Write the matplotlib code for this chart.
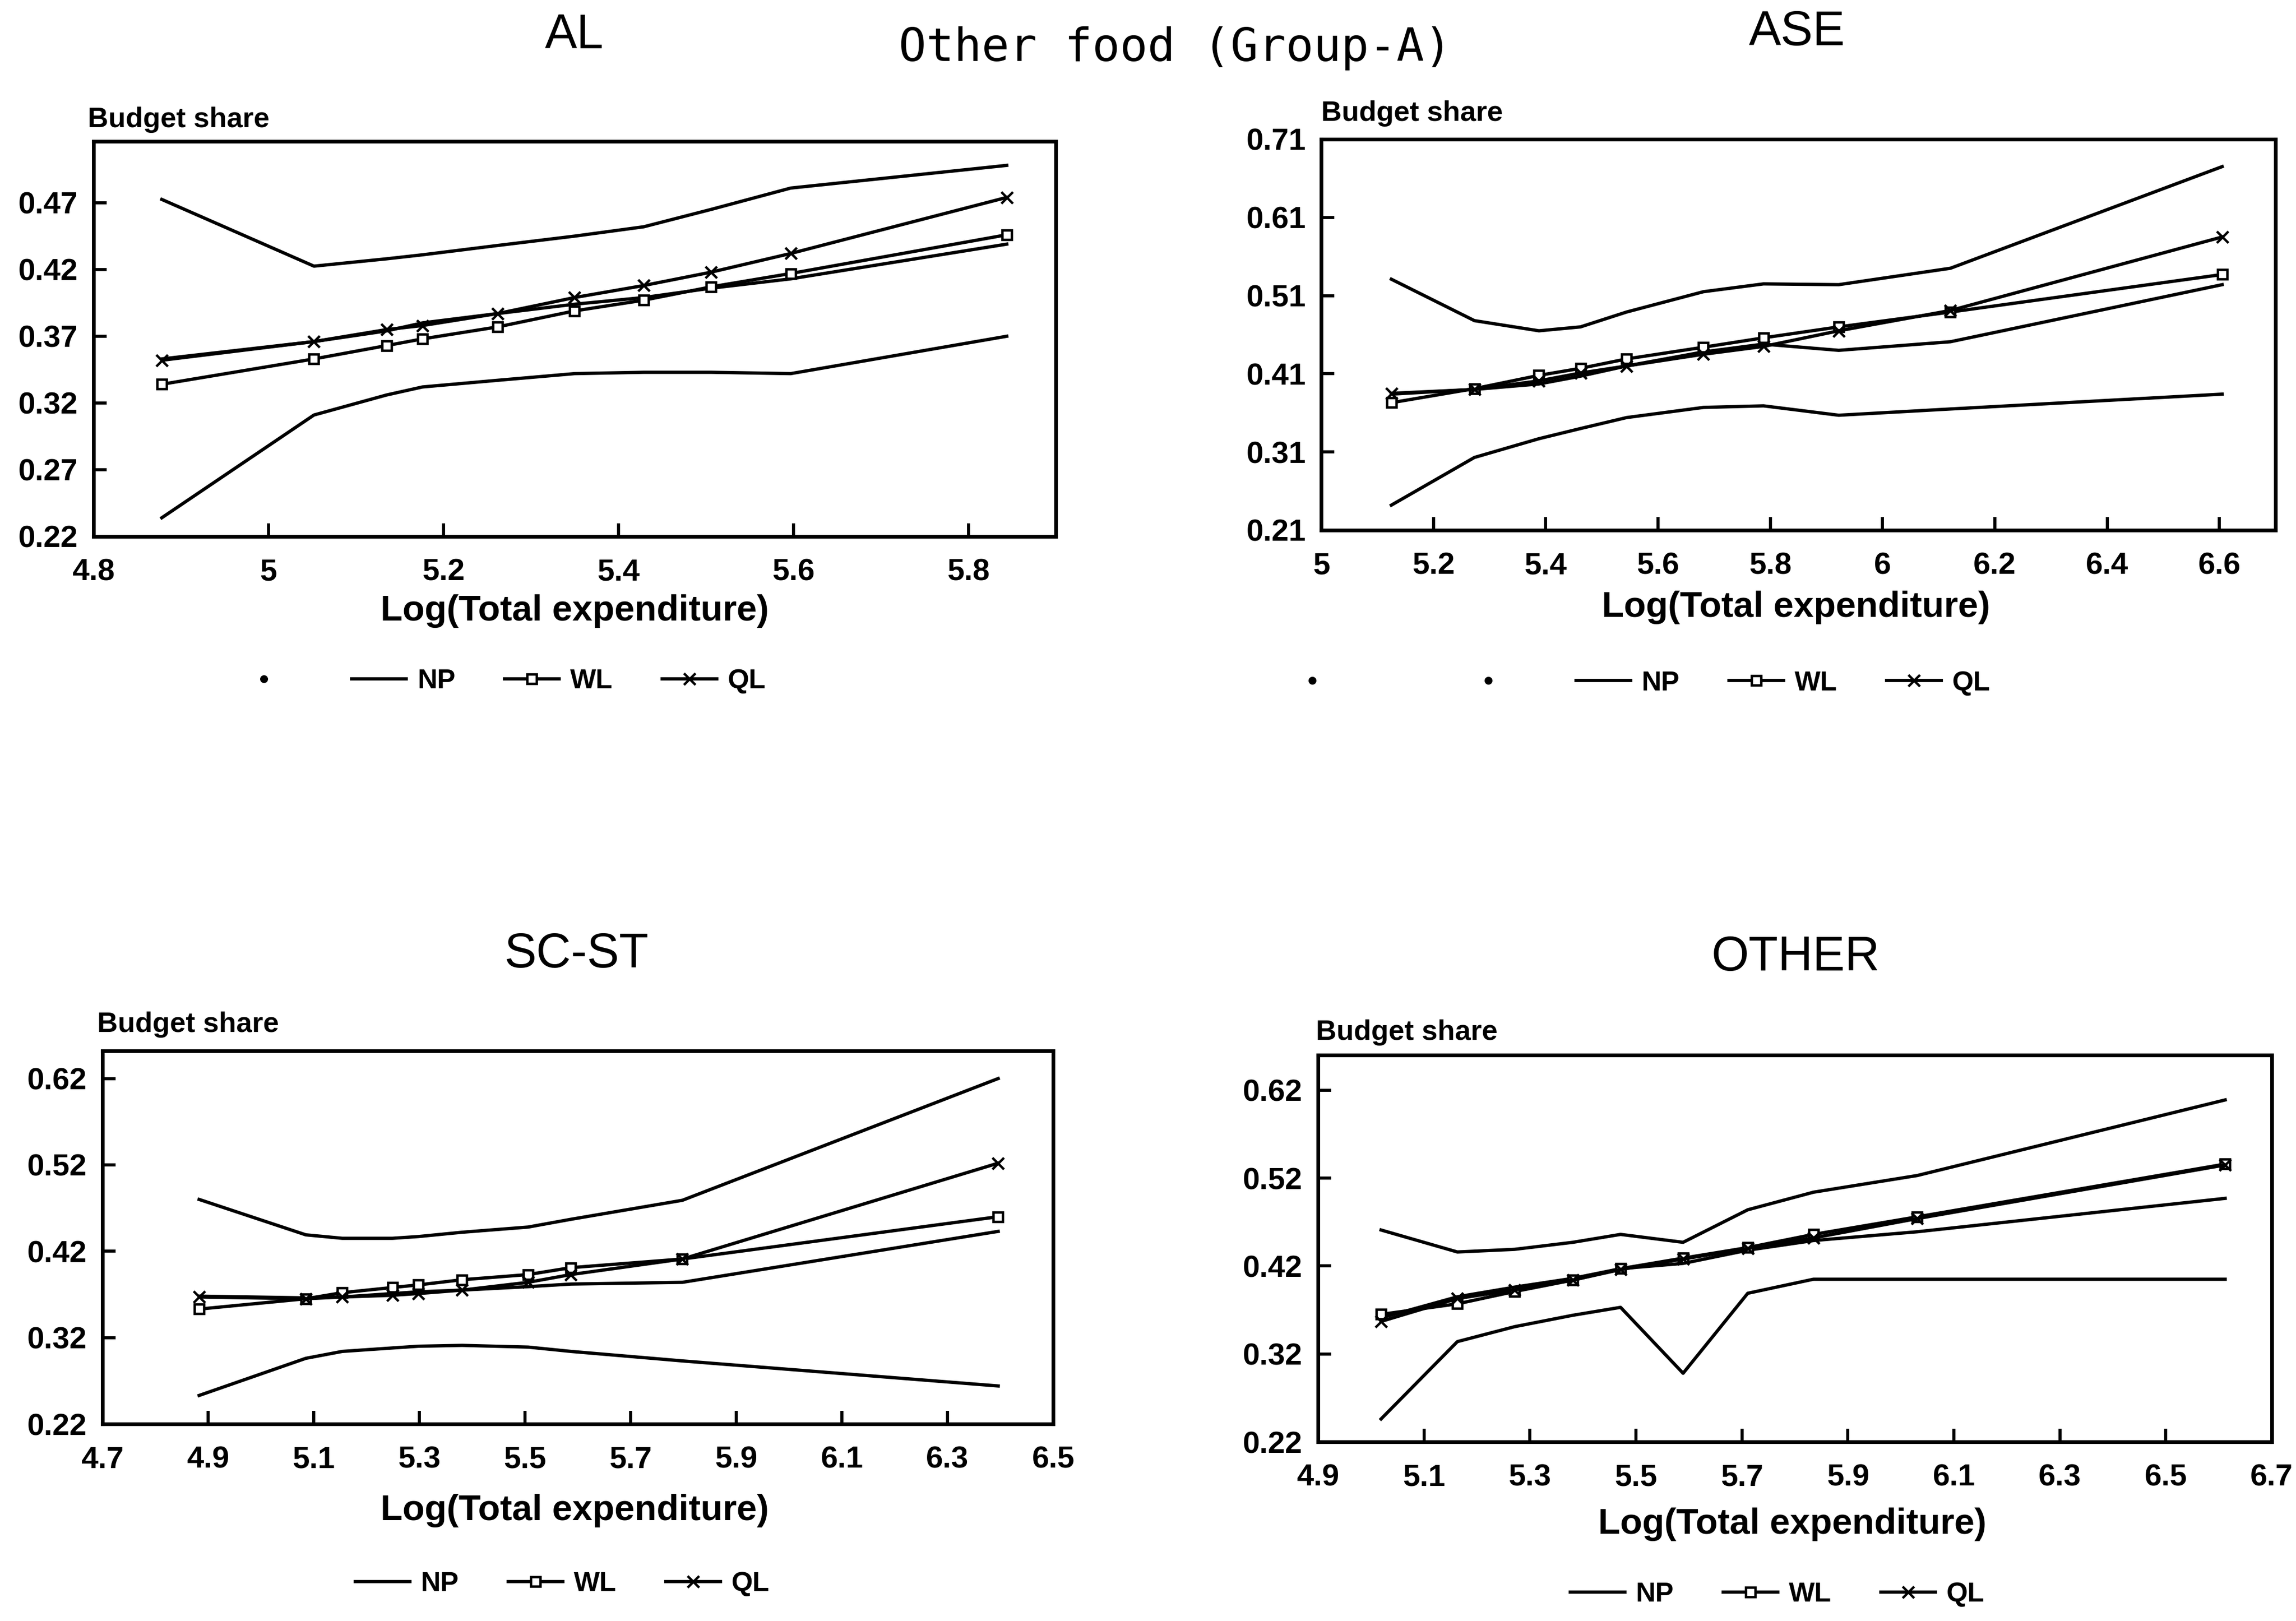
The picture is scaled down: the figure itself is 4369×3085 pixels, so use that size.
import matplotlib
matplotlib.use("Agg")
import matplotlib.pyplot as plt
from matplotlib.lines import Line2D

plt.rcParams['font.family'] = ['Liberation Sans', 'DejaVu Sans']

# ---------------- data ----------------
main_title = "Other food (Group-A)"
panel_names = ["AL", "ASE", "SC-ST", "OTHER"]
y_label = "Budget share"
x_label = "Log(Total expenditure)"

# AL
al_x = [4.878, 5.052, 5.135, 5.176, 5.262, 5.350, 5.429, 5.506, 5.597, 5.844]
al_np_upper = [0.4725, 0.4225, 0.428, 0.431, 0.438, 0.445, 0.452, 0.465, 0.481, 0.498]
al_np_mid = [0.353, 0.366, 0.374, 0.380, 0.387, 0.394, 0.399, 0.406, 0.413, 0.439]
al_np_lower = [0.234, 0.311, 0.326, 0.332, 0.337, 0.342, 0.343, 0.343, 0.342, 0.370]
al_wl = [0.334, 0.353, 0.363, 0.368, 0.377, 0.389, 0.397, 0.407, 0.417, 0.446]
al_ql = [0.352, 0.366, 0.375, 0.378, 0.387, 0.399, 0.408, 0.418, 0.432, 0.474]
al_xticks = [4.8, 5.0, 5.2, 5.4, 5.6, 5.8]
al_xticklabels = ["4.8", "5", "5.2", "5.4", "5.6", "5.8"]
al_yticks = [0.22, 0.27, 0.32, 0.37, 0.42, 0.47]
al_yticklabels = ["0.22", "0.27", "0.32", "0.37", "0.42", "0.47"]

# ASE
ase_x = [5.125, 5.273, 5.388, 5.462, 5.544, 5.681, 5.788, 5.922, 6.121, 6.605]
ase_np_upper = [0.531, 0.478, 0.465, 0.470, 0.489, 0.515, 0.525, 0.524, 0.545, 0.675]
ase_np_mid = [0.384, 0.390, 0.397, 0.407, 0.420, 0.438, 0.448, 0.440, 0.451, 0.524]
ase_np_lower = [0.242, 0.303, 0.327, 0.340, 0.354, 0.367, 0.369, 0.357, 0.365, 0.384]
ase_wl = [0.373, 0.391, 0.408, 0.417, 0.429, 0.444, 0.456, 0.470, 0.489, 0.537]
ase_ql = [0.385, 0.390, 0.401, 0.411, 0.420, 0.435, 0.445, 0.465, 0.491, 0.585]
ase_xticks = [5.0, 5.2, 5.4, 5.6, 5.8, 6.0, 6.2, 6.4, 6.6]
ase_xticklabels = ["5", "5.2", "5.4", "5.6", "5.8", "6", "6.2", "6.4", "6.6"]
ase_yticks = [0.21, 0.31, 0.41, 0.51, 0.61, 0.71]
ase_yticklabels = ["0.21", "0.31", "0.41", "0.51", "0.61", "0.71"]

# SC-ST
sc_x = [4.883, 5.085, 5.154, 5.249, 5.298, 5.381, 5.506, 5.587, 5.798, 6.396]
sc_np_upper = [0.480, 0.439, 0.435, 0.435, 0.437, 0.442, 0.448, 0.457, 0.479, 0.620]
sc_np_mid = [0.368, 0.366, 0.367, 0.371, 0.373, 0.375, 0.379, 0.382, 0.384, 0.443]
sc_np_lower = [0.253, 0.296, 0.304, 0.308, 0.310, 0.311, 0.309, 0.304, 0.293, 0.264]
sc_wl = [0.353, 0.365, 0.372, 0.378, 0.381, 0.387, 0.393, 0.401, 0.411, 0.460]
sc_ql = [0.367, 0.365, 0.367, 0.369, 0.371, 0.375, 0.384, 0.393, 0.411, 0.522]
sc_xticks = [4.7, 4.9, 5.1, 5.3, 5.5, 5.7, 5.9, 6.1, 6.3, 6.5]
sc_xticklabels = ["4.7", "4.9", "5.1", "5.3", "5.5", "5.7", "5.9", "6.1", "6.3", "6.5"]
sc_yticks = [0.22, 0.32, 0.42, 0.52, 0.62]
sc_yticklabels = ["0.22", "0.32", "0.42", "0.52", "0.62"]

# OTHER
ot_x = [5.019, 5.163, 5.271, 5.381, 5.471, 5.589, 5.711, 5.835, 6.031, 6.612]
ot_np_upper = [0.461, 0.436, 0.439, 0.447, 0.456, 0.447, 0.484, 0.504, 0.523, 0.609]
ot_np_mid = [0.361, 0.385, 0.396, 0.406, 0.417, 0.423, 0.438, 0.449, 0.459, 0.497]
ot_np_lower = [0.246, 0.334, 0.351, 0.364, 0.373, 0.298, 0.389, 0.405, 0.405, 0.405]
ot_wl = [0.365, 0.377, 0.391, 0.404, 0.417, 0.429, 0.441, 0.456, 0.476, 0.536]
ot_ql = [0.357, 0.383, 0.393, 0.404, 0.416, 0.428, 0.440, 0.452, 0.474, 0.535]
ot_xticks = [4.9, 5.1, 5.3, 5.5, 5.7, 5.9, 6.1, 6.3, 6.5, 6.7]
ot_xticklabels = ["4.9", "5.1", "5.3", "5.5", "5.7", "5.9", "6.1", "6.3", "6.5", "6.7"]
ot_yticks = [0.22, 0.32, 0.42, 0.52, 0.62]
ot_yticklabels = ["0.22", "0.32", "0.42", "0.52", "0.62"]

series_labels = ["NP", "WL", "QL"]

# ---------------- layout (pixels on a 4369 x 3085 canvas) ----------------
W, H = 4369, 3085
fig = plt.figure(figsize=(W / 300, H / 300), dpi=300)
fig.patch.set_facecolor("white")


def fx(px):
    return px / W


def fy(py):
    return 1 - py / H


panels = [
    dict(name="AL", box=(178, 2009, 269, 1021), xlim=(4.8, 5.9), ylim=(0.22, 0.516),
         x=al_x, npu=al_np_upper, npm=al_np_mid, npl=al_np_lower, wl=al_wl, ql=al_ql,
         xt=al_xticks, xtl=al_xticklabels, yt=al_yticks, ytl=al_yticklabels,
         title_at=(1093, 68), ylab_at=(167, 228), xlab_at=(1093, 1163),
         leg_at=(954, 1297), dots=1),
    dict(name="ASE", box=(2514, 4330, 265, 1009), xlim=(5.0, 6.7), ylim=(0.21, 0.71),
         x=ase_x, npu=ase_np_upper, npm=ase_np_mid, npl=ase_np_lower, wl=ase_wl, ql=ase_ql,
         xt=ase_xticks, xtl=ase_xticklabels, yt=ase_yticks, ytl=ase_yticklabels,
         title_at=(3420, 62), ylab_at=(2514, 216), xlab_at=(3417, 1156),
         leg_at=(3116, 1300), dots=2),
    dict(name="SC-ST", box=(195, 2004, 2000, 2710), xlim=(4.7, 6.5), ylim=(0.22, 0.652),
         x=sc_x, npu=sc_np_upper, npm=sc_np_mid, npl=sc_np_lower, wl=sc_wl, ql=sc_ql,
         xt=sc_xticks, xtl=sc_xticklabels, yt=sc_yticks, ytl=sc_yticklabels,
         title_at=(1097, 1817), ylab_at=(185, 1950), xlab_at=(1093, 2875),
         leg_at=(1070, 3015), dots=0),
    dict(name="OTHER", box=(2508, 4323, 2008, 2744), xlim=(4.9, 6.7), ylim=(0.22, 0.66),
         x=ot_x, npu=ot_np_upper, npm=ot_np_mid, npl=ot_np_lower, wl=ot_wl, ql=ot_ql,
         xt=ot_xticks, xtl=ot_xticklabels, yt=ot_yticks, ytl=ot_yticklabels,
         title_at=(3417, 1823), ylab_at=(2504, 1965), xlab_at=(3410, 2901),
         leg_at=(3382, 3035), dots=0),
]

bold = dict(family="Liberation Sans", weight="bold")
line_kw = dict(color="black", lw=1.5)

for p in panels:
    l, r, t, b = p["box"]
    ax = fig.add_axes([fx(l), fy(b), (r - l) / W, (b - t) / H])
    ax.set_xlim(*p["xlim"])
    ax.set_ylim(*p["ylim"])

    np_line, = ax.plot(p["x"], p["npu"], **line_kw)
    ax.plot(p["x"], p["npm"], **line_kw)
    ax.plot(p["x"], p["npl"], **line_kw)
    wl_line, = ax.plot(p["x"], p["wl"], marker="s", ms=4.5, mfc="white", mec="black",
                       mew=1.1, **line_kw)
    ql_line, = ax.plot(p["x"], p["ql"], marker="x", ms=5.5, mew=1.1, **line_kw)

    for s in ax.spines.values():
        s.set_linewidth(1.7)
        s.set_color("black")

    ax.set_xticks(p["xt"])
    ax.set_xticklabels(p["xtl"], fontsize=14, **bold)
    ax.set_yticks(p["yt"])
    ax.set_yticklabels(p["ytl"], fontsize=14, **bold)
    ax.tick_params(axis="both", direction="in", length=6, width=1.4)
    ax.tick_params(axis="x", pad=10)
    ax.tick_params(axis="y", pad=7)

    fig.text(fx(p["title_at"][0]), fy(p["title_at"][1]), p["name"],
             ha="center", va="center", fontsize=22, family="Liberation Sans")
    fig.text(fx(p["ylab_at"][0]), fy(p["ylab_at"][1]), y_label,
             ha="left", va="center", fontsize=13, **bold)
    fig.text(fx(p["xlab_at"][0]), fy(p["xlab_at"][1]), x_label,
             ha="center", va="center", fontsize=16.5, **bold)

    handles, labels = [], []
    for i in range(p["dots"]):
        handles.append(Line2D([], [], ls="none", marker="o", ms=2.6, color="black"))
        labels.append("" if i == p["dots"] - 1 else "        ")
    handles += [np_line, wl_line, ql_line]
    labels += series_labels
    fig.legend(handles, labels, loc="center",
               bbox_to_anchor=(fx(p["leg_at"][0]), fy(p["leg_at"][1])),
               ncol=len(handles), frameon=False,
               prop=dict(family="Liberation Sans", weight="bold", size=12.5),
               handlelength=2.0, handletextpad=0.4, columnspacing=1.8,
               borderpad=0, borderaxespad=0)

# figure heading in a plotter-style monospaced face
fig.text(fx(2236), fy(92), main_title, ha="center", va="center",
         fontsize=21, family="DejaVu Sans Mono")

fig.savefig("out.png", dpi=300, facecolor="white")
